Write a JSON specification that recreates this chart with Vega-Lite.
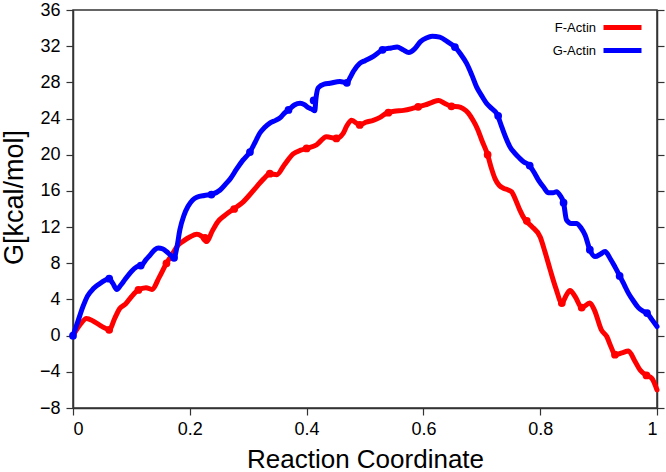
{
  "$schema": "https://vega.github.io/schema/vega-lite/v6.json",
  "width": 584,
  "height": 398,
  "autosize": {"type": "none"},
  "padding": {"left": 73, "top": 10, "right": 9, "bottom": 64},
  "background": "white",
  "config": {
    "font": "Liberation Sans",
    "view": {"stroke": "#333333", "strokeWidth": 1.5},
    "axis": {
      "domainColor": "#333333",
      "domainWidth": 1.5,
      "tickColor": "#333333",
      "tickWidth": 1.2,
      "tickSize": 7,
      "grid": false,
      "labelFont": "Liberation Sans",
      "labelFontSize": 18,
      "labelColor": "black",
      "titleFont": "Liberation Sans",
      "titleColor": "black",
      "titleFontWeight": "normal"
    }
  },
  "datasets": {
    "curves": [
      {"series": "F-Actin", "x": 0, "y": 0},
      {"series": "F-Actin", "x": 0.012, "y": 1.2},
      {"series": "F-Actin", "x": 0.023, "y": 1.9},
      {"series": "F-Actin", "x": 0.035, "y": 1.6},
      {"series": "F-Actin", "x": 0.05, "y": 1.0},
      {"series": "F-Actin", "x": 0.062, "y": 0.65},
      {"series": "F-Actin", "x": 0.072, "y": 2.0},
      {"series": "F-Actin", "x": 0.08, "y": 3.0},
      {"series": "F-Actin", "x": 0.09, "y": 3.5},
      {"series": "F-Actin", "x": 0.1, "y": 4.3},
      {"series": "F-Actin", "x": 0.112, "y": 5.05},
      {"series": "F-Actin", "x": 0.125, "y": 5.3},
      {"series": "F-Actin", "x": 0.135, "y": 5.1},
      {"series": "F-Actin", "x": 0.148, "y": 6.5},
      {"series": "F-Actin", "x": 0.16, "y": 8.0},
      {"series": "F-Actin", "x": 0.17, "y": 9.0},
      {"series": "F-Actin", "x": 0.18, "y": 10.0},
      {"series": "F-Actin", "x": 0.19, "y": 10.5},
      {"series": "F-Actin", "x": 0.2, "y": 10.9},
      {"series": "F-Actin", "x": 0.212, "y": 11.2},
      {"series": "F-Actin", "x": 0.22, "y": 11.0},
      {"series": "F-Actin", "x": 0.229, "y": 10.4},
      {"series": "F-Actin", "x": 0.238, "y": 11.5},
      {"series": "F-Actin", "x": 0.248, "y": 12.6},
      {"series": "F-Actin", "x": 0.26, "y": 13.3},
      {"series": "F-Actin", "x": 0.275, "y": 14.0},
      {"series": "F-Actin", "x": 0.29, "y": 14.7},
      {"series": "F-Actin", "x": 0.303, "y": 15.6},
      {"series": "F-Actin", "x": 0.315, "y": 16.5},
      {"series": "F-Actin", "x": 0.326, "y": 17.3},
      {"series": "F-Actin", "x": 0.337, "y": 17.9},
      {"series": "F-Actin", "x": 0.349, "y": 17.8},
      {"series": "F-Actin", "x": 0.362, "y": 18.9},
      {"series": "F-Actin", "x": 0.377, "y": 20.1},
      {"series": "F-Actin", "x": 0.39, "y": 20.5},
      {"series": "F-Actin", "x": 0.4, "y": 20.7},
      {"series": "F-Actin", "x": 0.417, "y": 21.1},
      {"series": "F-Actin", "x": 0.434, "y": 22.0},
      {"series": "F-Actin", "x": 0.451, "y": 21.8},
      {"series": "F-Actin", "x": 0.462, "y": 22.3},
      {"series": "F-Actin", "x": 0.469, "y": 23.2},
      {"series": "F-Actin", "x": 0.477, "y": 23.8},
      {"series": "F-Actin", "x": 0.491, "y": 23.3},
      {"series": "F-Actin", "x": 0.502, "y": 23.6},
      {"series": "F-Actin", "x": 0.514, "y": 23.8},
      {"series": "F-Actin", "x": 0.525, "y": 24.1},
      {"series": "F-Actin", "x": 0.537, "y": 24.6},
      {"series": "F-Actin", "x": 0.55, "y": 24.8},
      {"series": "F-Actin", "x": 0.566, "y": 24.9},
      {"series": "F-Actin", "x": 0.58, "y": 25.1},
      {"series": "F-Actin", "x": 0.591, "y": 25.3},
      {"series": "F-Actin", "x": 0.603, "y": 25.5},
      {"series": "F-Actin", "x": 0.615, "y": 25.8},
      {"series": "F-Actin", "x": 0.626, "y": 26.0},
      {"series": "F-Actin", "x": 0.636, "y": 25.7},
      {"series": "F-Actin", "x": 0.648, "y": 25.35},
      {"series": "F-Actin", "x": 0.66, "y": 25.3},
      {"series": "F-Actin", "x": 0.668, "y": 25.1},
      {"series": "F-Actin", "x": 0.677, "y": 24.6},
      {"series": "F-Actin", "x": 0.685, "y": 23.8},
      {"series": "F-Actin", "x": 0.693, "y": 22.8},
      {"series": "F-Actin", "x": 0.7, "y": 21.6},
      {"series": "F-Actin", "x": 0.71, "y": 20.0},
      {"series": "F-Actin", "x": 0.716, "y": 18.6},
      {"series": "F-Actin", "x": 0.723, "y": 17.3},
      {"series": "F-Actin", "x": 0.73, "y": 16.6},
      {"series": "F-Actin", "x": 0.737, "y": 16.3},
      {"series": "F-Actin", "x": 0.745, "y": 16.1},
      {"series": "F-Actin", "x": 0.751, "y": 15.9},
      {"series": "F-Actin", "x": 0.758, "y": 15.0},
      {"series": "F-Actin", "x": 0.765, "y": 13.9},
      {"series": "F-Actin", "x": 0.774, "y": 12.8},
      {"series": "F-Actin", "x": 0.785, "y": 12.1},
      {"series": "F-Actin", "x": 0.8, "y": 10.9},
      {"series": "F-Actin", "x": 0.808, "y": 9.3},
      {"series": "F-Actin", "x": 0.817, "y": 7.3},
      {"series": "F-Actin", "x": 0.827, "y": 5.2},
      {"series": "F-Actin", "x": 0.837, "y": 3.6},
      {"series": "F-Actin", "x": 0.845, "y": 4.5},
      {"series": "F-Actin", "x": 0.851, "y": 5.0},
      {"series": "F-Actin", "x": 0.86, "y": 4.3},
      {"series": "F-Actin", "x": 0.871, "y": 3.1},
      {"series": "F-Actin", "x": 0.885, "y": 3.6},
      {"series": "F-Actin", "x": 0.893, "y": 2.8},
      {"series": "F-Actin", "x": 0.905, "y": 0.6},
      {"series": "F-Actin", "x": 0.914, "y": -0.1},
      {"series": "F-Actin", "x": 0.921, "y": -1.2},
      {"series": "F-Actin", "x": 0.928, "y": -2.1},
      {"series": "F-Actin", "x": 0.94, "y": -1.9},
      {"series": "F-Actin", "x": 0.951, "y": -1.7},
      {"series": "F-Actin", "x": 0.962, "y": -2.8},
      {"series": "F-Actin", "x": 0.971, "y": -3.8},
      {"series": "F-Actin", "x": 0.982, "y": -4.4},
      {"series": "F-Actin", "x": 0.991, "y": -4.7},
      {"series": "F-Actin", "x": 1.0, "y": -6.0},
      {"series": "G-Actin", "x": 0, "y": 0},
      {"series": "G-Actin", "x": 0.008, "y": 1.5},
      {"series": "G-Actin", "x": 0.017, "y": 3.2},
      {"series": "G-Actin", "x": 0.025, "y": 4.4},
      {"series": "G-Actin", "x": 0.035, "y": 5.2},
      {"series": "G-Actin", "x": 0.049, "y": 5.9},
      {"series": "G-Actin", "x": 0.062, "y": 6.3},
      {"series": "G-Actin", "x": 0.068, "y": 5.8},
      {"series": "G-Actin", "x": 0.075, "y": 5.1},
      {"series": "G-Actin", "x": 0.082, "y": 5.6},
      {"series": "G-Actin", "x": 0.089, "y": 6.2},
      {"series": "G-Actin", "x": 0.1, "y": 7.1},
      {"series": "G-Actin", "x": 0.109, "y": 7.6},
      {"series": "G-Actin", "x": 0.118, "y": 7.8},
      {"series": "G-Actin", "x": 0.125, "y": 8.4},
      {"series": "G-Actin", "x": 0.132, "y": 8.9},
      {"series": "G-Actin", "x": 0.14, "y": 9.5},
      {"series": "G-Actin", "x": 0.146, "y": 9.7},
      {"series": "G-Actin", "x": 0.153, "y": 9.6},
      {"series": "G-Actin", "x": 0.16, "y": 9.3},
      {"series": "G-Actin", "x": 0.167, "y": 8.9},
      {"series": "G-Actin", "x": 0.173, "y": 8.6},
      {"series": "G-Actin", "x": 0.178, "y": 9.8},
      {"series": "G-Actin", "x": 0.183, "y": 11.7},
      {"series": "G-Actin", "x": 0.19, "y": 13.3},
      {"series": "G-Actin", "x": 0.197, "y": 14.3},
      {"series": "G-Actin", "x": 0.205, "y": 15.0},
      {"series": "G-Actin", "x": 0.212, "y": 15.3},
      {"series": "G-Actin", "x": 0.225, "y": 15.5},
      {"series": "G-Actin", "x": 0.237, "y": 15.6},
      {"series": "G-Actin", "x": 0.252, "y": 16.1},
      {"series": "G-Actin", "x": 0.262, "y": 16.8},
      {"series": "G-Actin", "x": 0.27, "y": 17.4},
      {"series": "G-Actin", "x": 0.28, "y": 18.4},
      {"series": "G-Actin", "x": 0.291, "y": 19.4},
      {"series": "G-Actin", "x": 0.303, "y": 20.3},
      {"series": "G-Actin", "x": 0.312, "y": 21.4},
      {"series": "G-Actin", "x": 0.32, "y": 22.4},
      {"series": "G-Actin", "x": 0.328, "y": 23.0},
      {"series": "G-Actin", "x": 0.337, "y": 23.5},
      {"series": "G-Actin", "x": 0.347, "y": 23.8},
      {"series": "G-Actin", "x": 0.355, "y": 24.1},
      {"series": "G-Actin", "x": 0.362, "y": 24.6},
      {"series": "G-Actin", "x": 0.369, "y": 24.95},
      {"series": "G-Actin", "x": 0.379, "y": 25.5},
      {"series": "G-Actin", "x": 0.389, "y": 25.7},
      {"series": "G-Actin", "x": 0.397, "y": 25.5},
      {"series": "G-Actin", "x": 0.403, "y": 25.2},
      {"series": "G-Actin", "x": 0.41, "y": 25.0},
      {"series": "G-Actin", "x": 0.414, "y": 24.85},
      {"series": "G-Actin", "x": 0.416, "y": 26.2},
      {"series": "G-Actin", "x": 0.42, "y": 27.4},
      {"series": "G-Actin", "x": 0.43, "y": 27.8},
      {"series": "G-Actin", "x": 0.44, "y": 27.9},
      {"series": "G-Actin", "x": 0.457, "y": 28.1},
      {"series": "G-Actin", "x": 0.469, "y": 27.95},
      {"series": "G-Actin", "x": 0.475, "y": 28.6},
      {"series": "G-Actin", "x": 0.48, "y": 29.2},
      {"series": "G-Actin", "x": 0.491, "y": 30.1},
      {"series": "G-Actin", "x": 0.5, "y": 30.4},
      {"series": "G-Actin", "x": 0.515, "y": 30.9},
      {"series": "G-Actin", "x": 0.53, "y": 31.6},
      {"series": "G-Actin", "x": 0.545, "y": 31.8},
      {"series": "G-Actin", "x": 0.555, "y": 31.9},
      {"series": "G-Actin", "x": 0.565, "y": 31.6},
      {"series": "G-Actin", "x": 0.575, "y": 31.3},
      {"series": "G-Actin", "x": 0.585, "y": 31.7},
      {"series": "G-Actin", "x": 0.595, "y": 32.5},
      {"series": "G-Actin", "x": 0.605, "y": 32.9},
      {"series": "G-Actin", "x": 0.615, "y": 33.1},
      {"series": "G-Actin", "x": 0.628, "y": 33.0},
      {"series": "G-Actin", "x": 0.641, "y": 32.5},
      {"series": "G-Actin", "x": 0.654, "y": 31.9},
      {"series": "G-Actin", "x": 0.664, "y": 31.1},
      {"series": "G-Actin", "x": 0.674, "y": 30.1},
      {"series": "G-Actin", "x": 0.683, "y": 28.8},
      {"series": "G-Actin", "x": 0.691, "y": 27.5},
      {"series": "G-Actin", "x": 0.7, "y": 26.5},
      {"series": "G-Actin", "x": 0.708, "y": 25.7},
      {"series": "G-Actin", "x": 0.717, "y": 25.1},
      {"series": "G-Actin", "x": 0.726, "y": 24.5},
      {"series": "G-Actin", "x": 0.734, "y": 23.1},
      {"series": "G-Actin", "x": 0.741, "y": 21.9},
      {"series": "G-Actin", "x": 0.748, "y": 20.9},
      {"series": "G-Actin", "x": 0.756, "y": 20.2},
      {"series": "G-Actin", "x": 0.765, "y": 19.6},
      {"series": "G-Actin", "x": 0.772, "y": 19.2},
      {"series": "G-Actin", "x": 0.78, "y": 18.9},
      {"series": "G-Actin", "x": 0.789, "y": 18.1},
      {"series": "G-Actin", "x": 0.797, "y": 17.2},
      {"series": "G-Actin", "x": 0.806, "y": 16.4},
      {"series": "G-Actin", "x": 0.814, "y": 15.8},
      {"series": "G-Actin", "x": 0.822, "y": 15.8},
      {"series": "G-Actin", "x": 0.828, "y": 15.9},
      {"series": "G-Actin", "x": 0.834, "y": 15.5},
      {"series": "G-Actin", "x": 0.84, "y": 14.7},
      {"series": "G-Actin", "x": 0.845, "y": 12.8},
      {"series": "G-Actin", "x": 0.853, "y": 12.4},
      {"series": "G-Actin", "x": 0.862, "y": 12.4},
      {"series": "G-Actin", "x": 0.87, "y": 11.9},
      {"series": "G-Actin", "x": 0.877, "y": 11.1},
      {"series": "G-Actin", "x": 0.885, "y": 9.5},
      {"series": "G-Actin", "x": 0.894, "y": 8.75},
      {"series": "G-Actin", "x": 0.903, "y": 9.0},
      {"series": "G-Actin", "x": 0.911, "y": 9.3},
      {"series": "G-Actin", "x": 0.92, "y": 8.5},
      {"series": "G-Actin", "x": 0.928, "y": 7.6},
      {"series": "G-Actin", "x": 0.937, "y": 6.5},
      {"series": "G-Actin", "x": 0.944, "y": 5.6},
      {"series": "G-Actin", "x": 0.951, "y": 4.7},
      {"series": "G-Actin", "x": 0.96, "y": 3.8},
      {"series": "G-Actin", "x": 0.968, "y": 3.1},
      {"series": "G-Actin", "x": 0.976, "y": 2.7},
      {"series": "G-Actin", "x": 0.983, "y": 2.5},
      {"series": "G-Actin", "x": 0.991, "y": 1.8},
      {"series": "G-Actin", "x": 1.0, "y": 1.0}
    ],
    "markers": [
      {"series": "F-Actin", "x": 0.062, "y": 0.65},
      {"series": "F-Actin", "x": 0.112, "y": 5.05},
      {"series": "F-Actin", "x": 0.16, "y": 8.0},
      {"series": "F-Actin", "x": 0.226, "y": 10.8},
      {"series": "F-Actin", "x": 0.276, "y": 14.0},
      {"series": "F-Actin", "x": 0.337, "y": 17.9},
      {"series": "F-Actin", "x": 0.4, "y": 20.7},
      {"series": "F-Actin", "x": 0.451, "y": 21.8},
      {"series": "F-Actin", "x": 0.491, "y": 23.3},
      {"series": "F-Actin", "x": 0.54, "y": 24.65},
      {"series": "F-Actin", "x": 0.591, "y": 25.3},
      {"series": "F-Actin", "x": 0.648, "y": 25.35},
      {"series": "F-Actin", "x": 0.71, "y": 20.0},
      {"series": "F-Actin", "x": 0.777, "y": 12.7},
      {"series": "F-Actin", "x": 0.837, "y": 3.6},
      {"series": "F-Actin", "x": 0.871, "y": 3.1},
      {"series": "F-Actin", "x": 0.928, "y": -2.1},
      {"series": "F-Actin", "x": 0.982, "y": -4.4},
      {"series": "G-Actin", "x": 0, "y": 0},
      {"series": "G-Actin", "x": 0.062, "y": 6.3},
      {"series": "G-Actin", "x": 0.116, "y": 7.75},
      {"series": "G-Actin", "x": 0.173, "y": 8.6},
      {"series": "G-Actin", "x": 0.237, "y": 15.6},
      {"series": "G-Actin", "x": 0.303, "y": 20.3},
      {"series": "G-Actin", "x": 0.369, "y": 24.95},
      {"series": "G-Actin", "x": 0.412, "y": 26.0},
      {"series": "G-Actin", "x": 0.469, "y": 27.95},
      {"series": "G-Actin", "x": 0.53, "y": 31.6},
      {"series": "G-Actin", "x": 0.654, "y": 31.9},
      {"series": "G-Actin", "x": 0.728, "y": 24.3},
      {"series": "G-Actin", "x": 0.782, "y": 18.8},
      {"series": "G-Actin", "x": 0.84, "y": 14.7},
      {"series": "G-Actin", "x": 0.885, "y": 9.5},
      {"series": "G-Actin", "x": 0.936, "y": 6.6},
      {"series": "G-Actin", "x": 0.983, "y": 2.5}
    ]
  },
  "layer": [
    {
      "data": {"name": "curves"},
      "mark": {"type": "line", "strokeWidth": 5, "interpolate": "monotone", "strokeCap": "round", "strokeJoin": "round"},
      "encoding": {
        "x": {
          "field": "x", "type": "quantitative",
          "scale": {"domain": [0, 1], "nice": false},
          "axis": {"values": [0, 0.2, 0.4, 0.6, 0.8, 1], "format": "~g", "title": "Reaction Coordinate", "titleFontSize": 26, "labelPadding": 5, "titlePadding": 8}
        },
        "y": {
          "field": "y", "type": "quantitative",
          "scale": {"domain": [-8, 36], "nice": false, "zero": false},
          "axis": {"values": [-8, -4, 0, 4, 8, 12, 16, 20, 24, 28, 32, 36], "title": "G[kcal/mol]", "titleFontSize": 27, "labelPadding": 6, "titleX": -45, "titleY": 187, "titleAngle": 270, "titleBaseline": "bottom", "titleAlign": "center"}
        },
        "color": {
          "field": "series", "type": "nominal",
          "scale": {"domain": ["F-Actin", "G-Actin"], "range": ["#ff0000", "#0000ff"]},
          "legend": {
            "title": null,
            "orient": "none",
            "legendX": 537,
            "legendY": 5,
            "symbolType": "M-1.9,0H1.9",
            "symbolSize": 400,
            "symbolStrokeWidth": 5,
            "labelFontSize": 13,
            "labelFont": "Liberation Sans",
            "labelColor": "black",
            "labelAlign": "right",
            "labelOffset": -39,
            "rowPadding": 0
          }
        }
      }
    },
    {
      "data": {"name": "markers"},
      "mark": {"type": "point", "filled": true, "opacity": 1, "size": 60},
      "encoding": {
        "x": {"field": "x", "type": "quantitative"},
        "y": {
          "field": "y", "type": "quantitative",
          "axis": {"orient": "right", "values": [-8, -4, 0, 4, 8, 12, 16, 20, 24, 28, 32, 36], "labels": false, "title": null}
        },
        "color": {"field": "series", "type": "nominal", "legend": null}
      }
    }
  ],
  "resolve": {"axis": {"y": "independent"}}
}
